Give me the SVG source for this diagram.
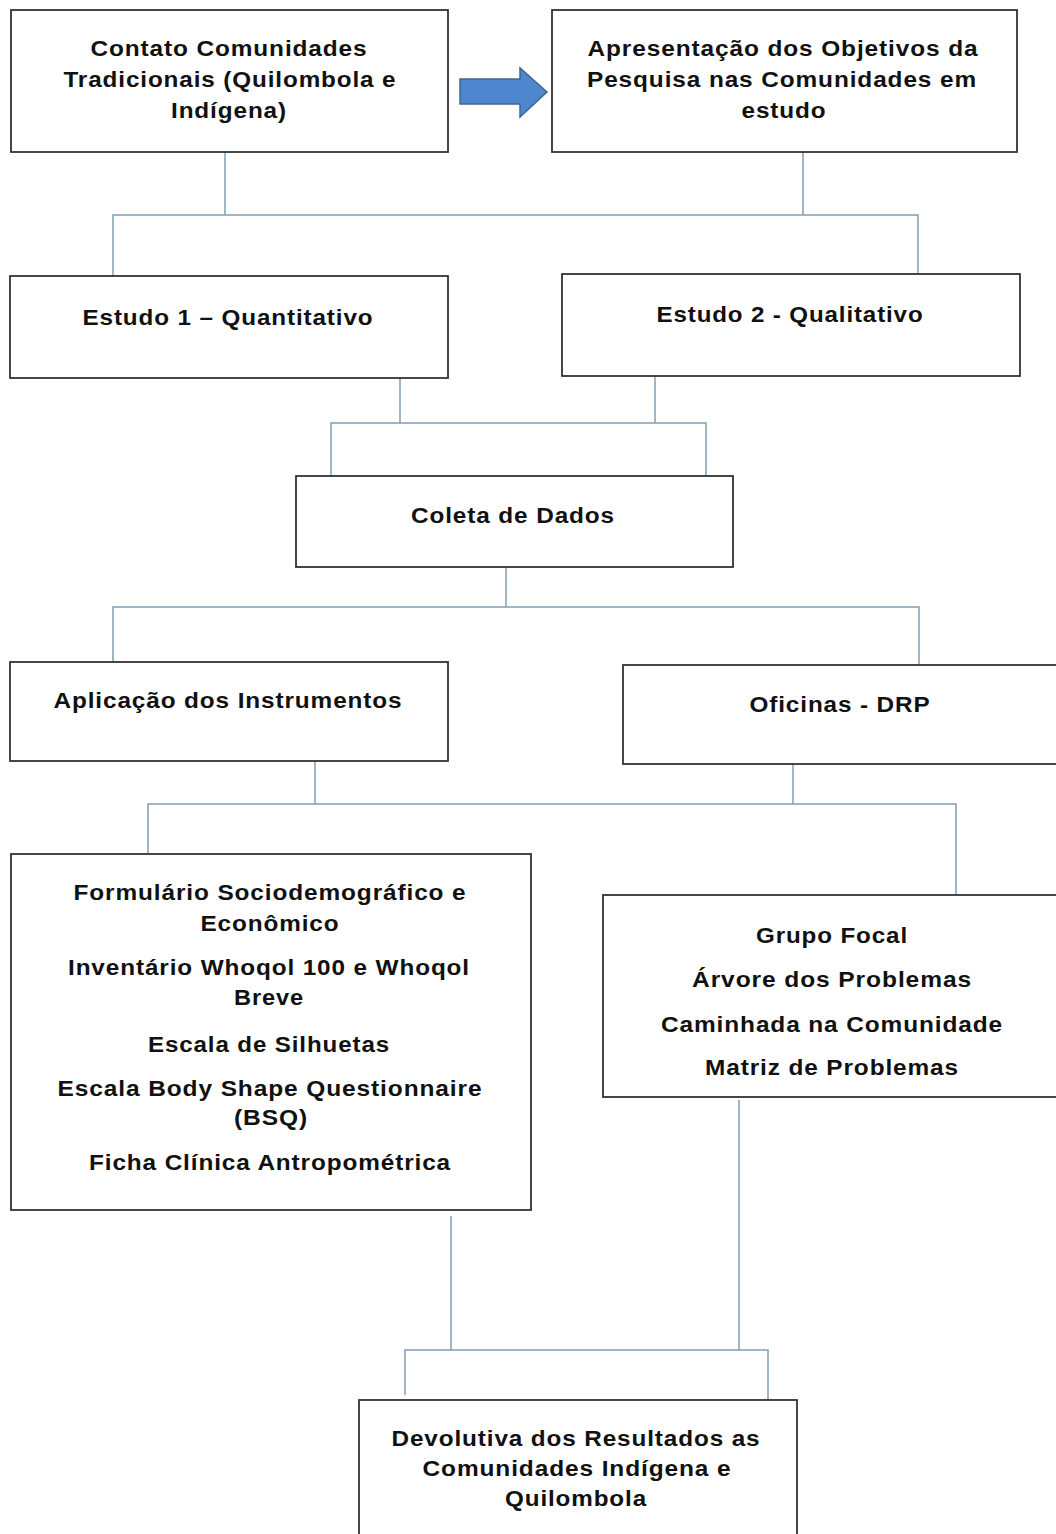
<svg xmlns="http://www.w3.org/2000/svg" width="1056" height="1534" viewBox="0 0 1056 1534">
<style>
.box{fill:#fff;stroke:#333;stroke-width:1.8}
.t{font-family:"Liberation Sans",Arial,sans-serif;font-weight:bold;font-size:22px;letter-spacing:0.8px;fill:#111;text-anchor:middle}
.c{fill:none;stroke:#7f9fb2;stroke-width:1.5}
</style>
<rect width="1056" height="1534" fill="#fff"/>
<g id="connectors">
<path class="c" d="M225 152V215M113 277V215H918V275M803 152V215"/>
<path class="c" d="M400 378V423M655 376V423M331 476V423H706V476"/>
<path class="c" d="M506 567V607M113 662V607H919V665"/>
<path class="c" d="M315 761V804M793 764V804M148 853V804H956V894"/>
<path class="c" d="M451 1216V1350M739 1100V1350M405 1395V1350H768V1400"/>
</g>
<g id="arrow">
<polygon points="460,79 520,79 520,68 547,92 520,117 520,104 460,104" fill="#4e87cd" stroke="#40678f" stroke-width="1.5"/>
</g>
<g id="n1">
<rect class="box" x="11" y="10" width="437" height="142"/>
<text class="t" x="229" y="56" textLength="277" lengthAdjust="spacingAndGlyphs">Contato Comunidades</text>
<text class="t" x="230" y="87" textLength="333" lengthAdjust="spacingAndGlyphs">Tradicionais (Quilombola e</text>
<text class="t" x="229" y="118" textLength="116" lengthAdjust="spacingAndGlyphs">Indígena)</text>
</g>
<g id="n2">
<rect class="box" x="552" y="10" width="465" height="142"/>
<text class="t" x="783" y="56" textLength="391" lengthAdjust="spacingAndGlyphs">Apresentação dos Objetivos da</text>
<text class="t" x="782" y="87" textLength="390" lengthAdjust="spacingAndGlyphs">Pesquisa nas Comunidades em</text>
<text class="t" x="784" y="118" textLength="85" lengthAdjust="spacingAndGlyphs">estudo</text>
</g>
<g id="n3">
<rect class="box" x="10" y="276" width="438" height="102"/>
<text class="t" x="228" y="325" textLength="291" lengthAdjust="spacingAndGlyphs">Estudo 1 – Quantitativo</text>
</g>
<g id="n4">
<rect class="box" x="562" y="274" width="458" height="102"/>
<text class="t" x="790" y="322" textLength="267" lengthAdjust="spacingAndGlyphs">Estudo 2 - Qualitativo</text>
</g>
<g id="n5">
<rect class="box" x="296" y="476" width="437" height="91"/>
<text class="t" x="513" y="523" textLength="204" lengthAdjust="spacingAndGlyphs">Coleta de Dados</text>
</g>
<g id="n6">
<rect class="box" x="10" y="662" width="438" height="99"/>
<text class="t" x="228" y="708" textLength="349" lengthAdjust="spacingAndGlyphs">Aplicação dos Instrumentos</text>
</g>
<g id="n7">
<rect class="box" x="623" y="665" width="440" height="99"/>
<text class="t" x="840" y="712" textLength="181" lengthAdjust="spacingAndGlyphs">Oficinas - DRP</text>
</g>
<g id="n8">
<rect class="box" x="11" y="854" width="520" height="356"/>
<text class="t" x="270" y="900" textLength="393" lengthAdjust="spacingAndGlyphs">Formulário Sociodemográfico e</text>
<text class="t" x="270" y="931" textLength="139" lengthAdjust="spacingAndGlyphs">Econômico</text>
<text class="t" x="269" y="975" textLength="402" lengthAdjust="spacingAndGlyphs">Inventário Whoqol 100 e Whoqol</text>
<text class="t" x="269" y="1005" textLength="70" lengthAdjust="spacingAndGlyphs">Breve</text>
<text class="t" x="269" y="1052" textLength="242" lengthAdjust="spacingAndGlyphs">Escala de Silhuetas</text>
<text class="t" x="270" y="1096" textLength="425" lengthAdjust="spacingAndGlyphs">Escala Body Shape Questionnaire</text>
<text class="t" x="271" y="1125" textLength="74" lengthAdjust="spacingAndGlyphs">(BSQ)</text>
<text class="t" x="270" y="1170" textLength="362" lengthAdjust="spacingAndGlyphs">Ficha Clínica Antropométrica</text>
</g>
<g id="n9">
<rect class="box" x="603" y="895" width="460" height="202"/>
<text class="t" x="832" y="943" textLength="152" lengthAdjust="spacingAndGlyphs">Grupo Focal</text>
<text class="t" x="832" y="987" textLength="280" lengthAdjust="spacingAndGlyphs">Árvore dos Problemas</text>
<text class="t" x="832" y="1032" textLength="342" lengthAdjust="spacingAndGlyphs">Caminhada na Comunidade</text>
<text class="t" x="832" y="1075" textLength="254" lengthAdjust="spacingAndGlyphs">Matriz de Problemas</text>
</g>
<g id="n10">
<rect class="box" x="359" y="1400" width="438" height="150"/>
<text class="t" x="576" y="1446" textLength="369" lengthAdjust="spacingAndGlyphs">Devolutiva dos Resultados as</text>
<text class="t" x="577" y="1476" textLength="309" lengthAdjust="spacingAndGlyphs">Comunidades Indígena e</text>
<text class="t" x="576" y="1506" textLength="142" lengthAdjust="spacingAndGlyphs">Quilombola</text>
</g>
</svg>
